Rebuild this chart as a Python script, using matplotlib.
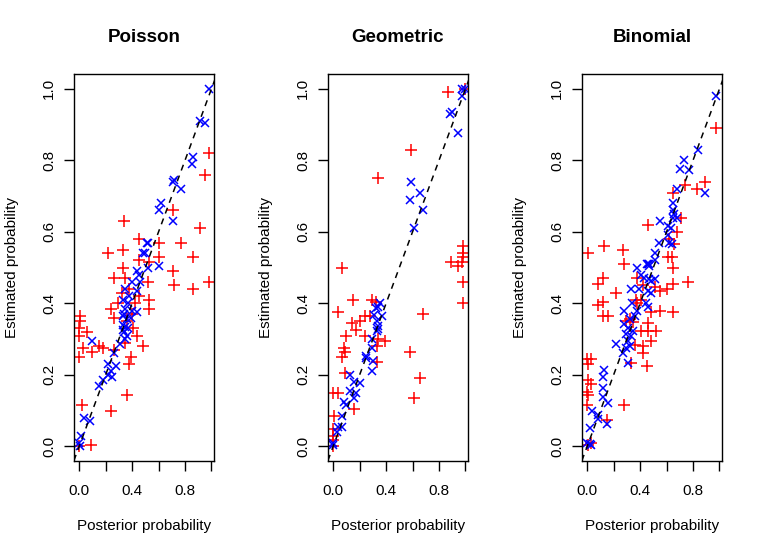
import matplotlib
matplotlib.use("Agg")
import matplotlib.pyplot as plt
import numpy as np

plt.rcParams['font.family'] = ['Liberation Sans', 'DejaVu Sans']

titles = ["Poisson", "Geometric", "Binomial"]
xlabel = "Posterior probability"
ylabel = "Estimated probability"

# red "+" points (posterior, estimated)
pois_red_x = [0.98, 0.95, 0.71, 0.34, 0.91, 0.45, 0.60, 0.77, 0.22, 0.33, 0.60, 0.86, 0.45, 0.53, 0.33,
              0.71, 0.26, 0.35, 0.52, 0.72, 0.86, 0.98, 0.32, 0.45, 0.53, 0.53, 0.29, 0.24, 0.26, 0.01,
              0.01, 0.00, 0.06, 0.00, 0.41, 0.44, 0.03, 0.10, 0.15, 0.18, 0.26, 0.48, 0.35, 0.00, 0.39,
              0.38, 0.36, 0.02, 0.24, 0.09, 0.00, 0.38, 0.40, 0.42, 0.36]
pois_red_y = [0.82, 0.76, 0.66, 0.63, 0.61, 0.58, 0.57, 0.57, 0.54, 0.55, 0.53, 0.53, 0.52, 0.515, 0.50,
              0.49, 0.47, 0.47, 0.46, 0.45, 0.44, 0.46, 0.43, 0.42, 0.41, 0.385, 0.40, 0.385, 0.36, 0.365,
              0.35, 0.33, 0.32, 0.31, 0.33, 0.31, 0.275, 0.265, 0.28, 0.275, 0.27, 0.28, 0.29, 0.25, 0.25,
              0.23, 0.145, 0.115, 0.10, 0.005, 0.00, 0.44, 0.37, 0.40, 0.35]
# blue "x" points
pois_blue_x = [0.98, 0.91, 0.95, 0.86, 0.85, 0.72, 0.71, 0.77, 0.62, 0.60, 0.71, 0.51, 0.52, 0.48, 0.50,
               0.60, 0.52, 0.44, 0.45, 0.40, 0.46, 0.35, 0.44, 0.33, 0.37, 0.35, 0.44, 0.40, 0.33, 0.36,
               0.33, 0.35, 0.33, 0.36, 0.35, 0.10, 0.31, 0.26, 0.22, 0.28, 0.24, 0.22, 0.25, 0.18, 0.15,
               0.04, 0.08, 0.015, 0.00, 0.005, 0.38, 0.34, 0.37, 0.34, 0.39]
pois_blue_y = [1.00, 0.91, 0.905, 0.81, 0.79, 0.745, 0.74, 0.72, 0.68, 0.66, 0.63, 0.57, 0.57, 0.54, 0.54,
               0.505, 0.50, 0.49, 0.48, 0.46, 0.46, 0.44, 0.435, 0.41, 0.40, 0.385, 0.375, 0.38, 0.365, 0.355,
               0.34, 0.335, 0.325, 0.31, 0.30, 0.295, 0.285, 0.26, 0.23, 0.225, 0.21, 0.20, 0.195, 0.185, 0.17,
               0.08, 0.07, 0.028, 0.01, 0.00, 0.42, 0.37, 0.33, 0.32, 0.36]

geom_red_x = [0.87, 1.00, 0.59, 0.34, 0.07, 0.98, 0.98, 0.98, 0.89, 0.94, 0.97, 0.98, 0.98, 0.15, 0.29,
              0.32, 0.035, 0.68, 0.14, 0.20, 0.24, 0.28, 0.17, 0.10, 0.24, 0.34, 0.39, 0.33, 0.08, 0.09,
              0.065, 0.58, 0.33, 0.09, 0.66, 0.61, 0.00, 0.035, 0.16, 0.01, 0.00, 0.00, 0.00, 0.00]
geom_red_y = [0.99, 1.00, 0.83, 0.75, 0.50, 0.56, 0.54, 0.53, 0.515, 0.505, 0.515, 0.46, 0.40, 0.41, 0.41,
              0.405, 0.375, 0.37, 0.345, 0.35, 0.365, 0.365, 0.325, 0.31, 0.31, 0.30, 0.295, 0.28, 0.275, 0.265,
              0.25, 0.265, 0.235, 0.205, 0.19, 0.135, 0.15, 0.15, 0.105, 0.085, 0.05, 0.03, 0.018, 0.00]
geom_blue_x = [0.97, 1.00, 0.97, 0.88, 0.90, 0.94, 0.59, 0.66, 0.58, 0.68, 0.61, 0.32, 0.34, 0.355, 0.37,
               0.31, 0.33, 0.34, 0.33, 0.34, 0.29, 0.29, 0.25, 0.25, 0.30, 0.29, 0.13, 0.16, 0.20, 0.13,
               0.17, 0.16, 0.085, 0.10, 0.065, 0.04, 0.065, 0.03, 0.00, 0.00]
geom_blue_y = [1.00, 1.00, 0.98, 0.93, 0.935, 0.876, 0.74, 0.71, 0.69, 0.66, 0.61, 0.386, 0.39, 0.40, 0.366,
               0.368, 0.352, 0.338, 0.324, 0.327, 0.30, 0.275, 0.254, 0.247, 0.238, 0.21, 0.20, 0.18, 0.177, 0.155,
               0.148, 0.135, 0.125, 0.117, 0.085, 0.055, 0.055, 0.04, 0.01, 0.005]

binom_red_x = [0.97, 0.89, 0.83, 0.74, 0.65, 0.71, 0.68, 0.46, 0.62, 0.66, 0.005, 0.13, 0.27, 0.28, 0.61,
               0.64, 0.65, 0.12, 0.08, 0.22, 0.38, 0.42, 0.51, 0.55, 0.60, 0.65, 0.76, 0.37, 0.41, 0.38,
               0.12, 0.08, 0.12, 0.16, 0.48, 0.55, 0.65, 0.29, 0.345, 0.32, 0.41, 0.46, 0.52, 0.46, 0.48,
               0.36, 0.42, 0.42, 0.33, 0.45, 0.00, 0.03, 0.005, 0.005, 0.03, 0.00, 0.005, 0.00, 0.28, 0.15,
               0.005, 0.03]
binom_red_y = [0.89, 0.74, 0.72, 0.73, 0.71, 0.64, 0.60, 0.62, 0.58, 0.565, 0.54, 0.56, 0.55, 0.51, 0.53,
               0.53, 0.50, 0.47, 0.455, 0.43, 0.47, 0.45, 0.445, 0.435, 0.44, 0.454, 0.46, 0.41, 0.41, 0.40,
               0.405, 0.395, 0.364, 0.364, 0.375, 0.38, 0.375, 0.35, 0.347, 0.357, 0.324, 0.324, 0.324, 0.345, 0.296,
               0.284, 0.282, 0.26, 0.234, 0.224, 0.245, 0.245, 0.23, 0.185, 0.175, 0.152, 0.143, 0.115, 0.115, 0.075,
               0.003, 0.01]
binom_blue_x = [0.97, 0.835, 0.73, 0.70, 0.77, 0.89, 0.68, 0.65, 0.65, 0.66, 0.65, 0.68, 0.55, 0.61, 0.63,
                0.61, 0.54, 0.62, 0.64, 0.51, 0.51, 0.46, 0.465, 0.38, 0.45, 0.47, 0.41, 0.43, 0.47, 0.51,
                0.48, 0.33, 0.395, 0.46, 0.48, 0.445, 0.46, 0.34, 0.28, 0.38, 0.36, 0.32, 0.28, 0.31, 0.345,
                0.29, 0.33, 0.31, 0.32, 0.29, 0.27, 0.22, 0.31, 0.13, 0.12, 0.12, 0.12, 0.16, 0.04, 0.08,
                0.085, 0.15, 0.02, 0.00, 0.02, 0.03]
binom_blue_y = [0.98, 0.83, 0.80, 0.777, 0.774, 0.71, 0.72, 0.68, 0.66, 0.65, 0.64, 0.64, 0.63, 0.617, 0.612,
                0.59, 0.57, 0.57, 0.565, 0.54, 0.52, 0.51, 0.505, 0.50, 0.51, 0.51, 0.48, 0.47, 0.468, 0.468,
                0.463, 0.44, 0.44, 0.435, 0.43, 0.40, 0.39, 0.40, 0.38, 0.378, 0.366, 0.357, 0.343, 0.33, 0.324,
                0.315, 0.308, 0.296, 0.282, 0.275, 0.26, 0.287, 0.234, 0.213, 0.195, 0.163, 0.138, 0.122, 0.098, 0.087,
                0.078, 0.062, 0.052, 0.01, 0.006, 0.004]

red_x = [pois_red_x, geom_red_x, binom_red_x]
red_y = [pois_red_y, geom_red_y, binom_red_y]
blue_x = [pois_blue_x, geom_blue_x, binom_blue_x]
blue_y = [pois_blue_y, geom_blue_y, binom_blue_y]

W, H = 761, 554
fig = plt.figure(figsize=(W / 100, H / 100), dpi=100)

lefts = [74, 328, 582]		# pixel positions of panel boxes
box_w = 140
box_top, box_bot = 74.5, 460.7

for i in range(3):
	ax = fig.add_axes([lefts[i] / W, 1 - box_bot / H, box_w / W, (box_bot - box_top) / H])
	ax.plot(red_x[i], red_y[i], linestyle='none', marker='+', color='#ff0000', markersize=8, markeredgewidth=1.1)
	ax.plot(blue_x[i], blue_y[i], linestyle='none', marker='x', color='#0000ff', markersize=6, markeredgewidth=1.1)
	ax.plot([-0.1, 1.1], [-0.1, 1.1], color='black', linestyle=(0, (4, 3.5)), linewidth=1.1)
	ax.set_xlim(-0.039, 1.019)
	ax.set_ylim(-0.04, 1.04)
	ax.set_xticks(np.arange(0, 1.01, 0.2))
	ax.set_xticklabels(["0.0", "", "0.4", "", "0.8", ""])
	ax.set_yticks(np.arange(0, 1.01, 0.2))
	ax.set_yticklabels(["0.0", "0.2", "0.4", "0.6", "0.8", "1.0"], rotation=90, va='center')
	ax.tick_params(length=7, width=1, labelsize=11)
	ax.tick_params(axis='x', pad=10)
	ax.tick_params(axis='y', pad=6)
	for s in ax.spines.values():
		s.set_linewidth(1.0)
	ax.text(0.5, 1 + 37 / 386, titles[i], transform=ax.transAxes, ha='center', va='center',
		fontsize=13.5, fontweight='bold')
	ax.text(0.5, -65 / 386, xlabel, transform=ax.transAxes, ha='center', va='center', fontsize=11)
	ax.text(-62 / box_w, 0.5, ylabel, transform=ax.transAxes, ha='center', va='center',
		rotation=90, fontsize=11)

fig.savefig("out.png", dpi=100)
